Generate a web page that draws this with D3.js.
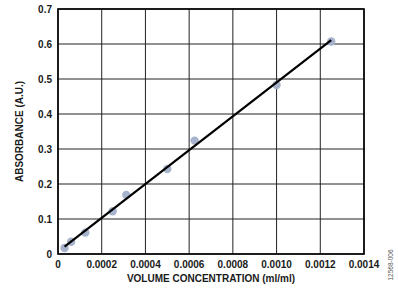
<!DOCTYPE html>
<html lang="en">
<head>
  <meta charset="UTF-8">
  <title>Absorbance vs Volume Concentration</title>
  <script src="https://d3js.org/d3.v7.min.js"></script>
  <style>
    body { margin: 0; background: #fff; }
    text { font-family: "Liberation Sans", Arial, sans-serif; fill: #1a1a1a; }
  </style>
</head>
<body>
<div id="chart"></div>
<script>
  // measured samples
  const concentration = [0.00003, 0.00006, 0.000125, 0.00025, 0.0003125, 0.0005, 0.000625, 0.001, 0.00125];
  const absorbance = [0.017, 0.035, 0.061, 0.122, 0.169, 0.243, 0.324, 0.483, 0.607];
  // fitted line endpoints
  const fitX = [0.00003, 0.00125];
  const fitY = [0.021, 0.611];
  const xTicks = [0, 0.0002, 0.0004, 0.0006, 0.0008, 0.0010, 0.0012, 0.0014];
  const xTickLabels = ["0", "0.0002", "0.0004", "0.0006", "0.0008", "0.0010", "0.0012", "0.0014"];
  const yTicks = [0, 0.1, 0.2, 0.3, 0.4, 0.5, 0.6, 0.7];
  const yTickLabels = ["0", "0.1", "0.2", "0.3", "0.4", "0.5", "0.6", "0.7"];

  const width = 398, height = 295;
  const margin = { top: 9, right: 34, bottom: 41, left: 58 };

  const svg = d3.select("#chart").append("svg")
    .attr("width", width)
    .attr("height", height);

  const x = d3.scaleLinear().domain([0, 0.0014]).range([margin.left, width - margin.right]);
  const y = d3.scaleLinear().domain([0, 0.7]).range([height - margin.bottom, margin.top]);

  // grid
  svg.append("g")
    .selectAll("line")
    .data(xTicks)
    .join("line")
      .attr("x1", d => x(d)).attr("x2", d => x(d))
      .attr("y1", y(0)).attr("y2", y(0.7))
      .attr("stroke", "#222").attr("stroke-width", 1);

  svg.append("g")
    .selectAll("line")
    .data(yTicks)
    .join("line")
      .attr("x1", x(0)).attr("x2", x(0.0014))
      .attr("y1", d => y(d)).attr("y2", d => y(d))
      .attr("stroke", "#222").attr("stroke-width", 1);

  svg.append("rect")
    .attr("x", x(0)).attr("y", y(0.7))
    .attr("width", x(0.0014) - x(0))
    .attr("height", y(0) - y(0.7))
    .attr("fill", "none").attr("stroke", "#000").attr("stroke-width", 1.6);

  // points
  svg.append("g")
    .selectAll("circle")
    .data(concentration)
    .join("circle")
      .attr("cx", d => x(d))
      .attr("cy", (d, i) => y(absorbance[i]))
      .attr("r", 4.2)
      .attr("fill", "#a7b3cc");

  // fit
  svg.append("line")
    .attr("x1", x(fitX[0])).attr("y1", y(fitY[0]))
    .attr("x2", x(fitX[1])).attr("y2", y(fitY[1]))
    .attr("stroke", "#000").attr("stroke-width", 2.2);

  // tick labels
  svg.append("g")
    .selectAll("text")
    .data(xTicks)
    .join("text")
      .attr("x", d => x(d))
      .attr("y", y(0) + 14)
      .attr("text-anchor", "middle")
      .attr("font-size", 10).attr("font-weight", "bold")
      .text((d, i) => xTickLabels[i]);

  svg.append("g")
    .selectAll("text")
    .data(yTicks)
    .join("text")
      .attr("x", x(0) - 6)
      .attr("y", d => y(d))
      .attr("dy", "0.35em")
      .attr("text-anchor", "end")
      .attr("font-size", 10).attr("font-weight", "bold")
      .text((d, i) => yTickLabels[i]);

  // axis titles
  svg.append("text")
    .attr("x", (x(0) + x(0.0014)) / 2)
    .attr("y", 282)
    .attr("text-anchor", "middle")
    .attr("font-size", 10).attr("font-weight", "bold")
    .text("VOLUME CONCENTRATION (ml/ml)");

  svg.append("text")
    .attr("transform", `translate(23,${(y(0) + y(0.7)) / 2}) rotate(-90)`)
    .attr("text-anchor", "middle")
    .attr("font-size", 10).attr("font-weight", "bold")
    .text("ABSORBANCE (A.U.)");

  svg.append("text")
    .attr("transform", "translate(393,265) rotate(-90)")
    .attr("text-anchor", "middle")
    .attr("font-size", 6.5)
    .style("fill", "#555")
    .text("12568-006");
</script>
</body>
</html>
